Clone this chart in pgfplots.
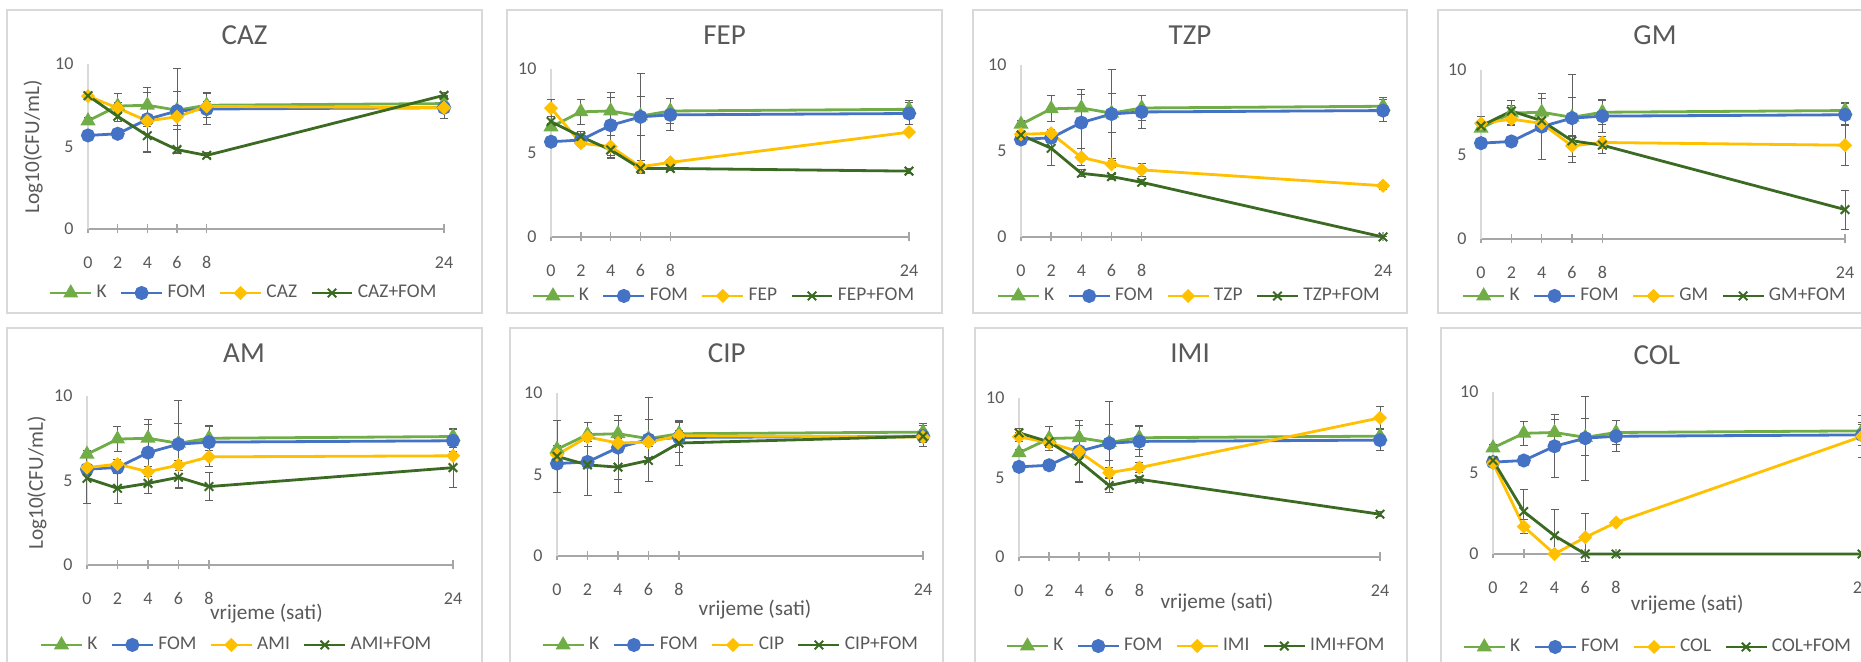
\documentclass[border=0pt]{standalone}
\usepackage{fontspec}
\setmainfont{Carlito}
\usepackage{pgfplots}
\pgfplotsset{compat=1.18}
\definecolor{cK}{HTML}{70AD47}
\definecolor{cF}{HTML}{4472C4}
\definecolor{cT}{HTML}{FFC000}
\definecolor{cC}{HTML}{3B6B22}
\definecolor{txt}{HTML}{595959}
\definecolor{axg}{HTML}{A6A6A6}
\definecolor{frm}{HTML}{D9D9D9}
\definecolor{errc}{HTML}{606060}
\pgfplotsset{
 panel/.style={
  scale only axis, xmin=0, xmax=24, ymin=0, ymax=10,
  axis x line*=bottom, axis y line*=left,
  xtick={0,2,4,6,8,24}, ytick={0,5,10},
  x axis line style={axg, line width=1pt},
  y axis line style={frm, line width=0.7pt},
  tick align=center, major tick length=4.5pt,
  xtick style={axg, line width=0.8pt},
  ytick style={draw=none},
  ticklabel style={font=\fontsize{9}{10}\selectfont, text=txt},
  /pgf/number format/assume math mode=true,
  xticklabel style={anchor=center, yshift=-14.5pt},
  yticklabel style={anchor=east, xshift=-1.5pt},
  title style={font=\fontsize{14.5}{16}\selectfont, text=txt, anchor=base},
  label style={font=\fontsize{10.6}{12}\selectfont, text=txt},
  legend style={draw=none, fill=none, font=\fontsize{9.7}{12}\selectfont, text=txt, legend columns=4, anchor=center, /tikz/every even column/.append style={column sep=4.5pt}},
  error bars/y dir=both, error bars/y explicit,
  error bars/error bar style={errc, line width=0.5pt},
  error bars/error mark options={rotate=90, mark size=2pt, errc, line width=0.5pt},
  clip=false,
 },
 legend image code/.code={\draw[mark repeat=2, mark phase=2, #1] plot coordinates {(0cm,0cm) (0.36cm,0cm) (0.72cm,0cm)};},
 sK/.style={cK, line width=1.4pt, mark=triangle*, mark size=3pt, mark options={solid, fill=cK}},
 sF/.style={cF, line width=1.4pt, mark=*, mark size=2.8pt, mark options={solid, fill=cF}},
 sT/.style={cT, line width=1.4pt, mark=square*, mark size=1.8pt, mark options={solid, fill=cT, rotate=45}},
 sC/.style={cC, line width=1.4pt, mark=x, mark size=3pt, mark options={solid, line width=1pt}},
}
\newcommand{\Kplot}{\addplot[sK] coordinates {(0,6.55) +- (0,0.2) (2,7.45) +- (0,0.75) (4,7.5) +- (0,0.8) (6,7.2) +- (0,1.15) (8,7.5) +- (0,0.75) (24,7.6) +- (0,0.5)};}
\newcommand{\Fplot}{\addplot[sF] coordinates {(0,5.67) +- (0,0.12) (2,5.77) +- (0,0.3) (4,6.65) +- (0,1.95) (6,7.15) +- (0,2.6) (8,7.27) +- (0,0.95) (24,7.35) +- (0,0.65)};}
\begin{document}
\begin{tikzpicture}
\useasboundingbox (0pt,0pt) rectangle (930.5pt,331pt);
\clip (0pt,0pt) rectangle (930.5pt,331pt);
% panel frames
\draw[frm, line width=1.2pt] (3.5pt,326pt) rectangle (241pt,174.5pt);
\draw[frm, line width=1.2pt] (253.5pt,326pt) rectangle (471pt,174.5pt);
\draw[frm, line width=1.2pt] (486.5pt,326pt) rectangle (703.5pt,174.5pt);
\draw[frm, line width=1.2pt] (719pt,326pt) rectangle (937.5pt,174.5pt);
\draw[frm, line width=1.2pt] (3.5pt,167pt) rectangle (241pt,-5pt);
\draw[frm, line width=1.2pt] (255pt,167pt) rectangle (471.5pt,-5pt);
\draw[frm, line width=1.2pt] (487.5pt,167pt) rectangle (703.5pt,-5pt);
\draw[frm, line width=1.2pt] (720.5pt,167pt) rectangle (937.5pt,-5pt);

% CAZ
\begin{axis}[panel, at={(44pt,216.5pt)}, anchor=south west, width=178pt, height=82.5pt,
  title={CAZ}, title style={at={(0.44,1)}, yshift=3.5pt},
  ylabel={Log10(CFU/mL)}, ylabel style={at={(axis description cs:-0.154,0.497)}, anchor=center},
  legend style={at={(0.44,-0.388)}}]
\Kplot \Fplot
\addplot[sT] coordinates {(0,8.05) +- (0,0.2) (2,7.33) +- (0,0.35) (4,6.55) +- (0,0.35) (6,6.8) +- (0,0.55) (8,7.43) +- (0,0.3) (24,7.35) +- (0,0.2)};
\addplot[sC] coordinates {(0,8.08) +- (0,0.15) (2,6.83) +- (0,0.3) (4,5.66) +- (0,1.0) (6,4.81) +- (0,0.15) (8,4.46) +- (0,0.15) (24,8.1) +- (0,0.15)};
\legend{K,FOM,CAZ,CAZ+FOM}
\end{axis}

% FEP
\begin{axis}[panel, at={(275.5pt,212.5pt)}, anchor=south west, width=179pt, height=84pt,
  title={FEP}, title style={at={(0.485,1)}, yshift=6pt},
  legend style={at={(0.485,-0.351)}}]
\Kplot \Fplot
\addplot[sT] coordinates {(0,7.67) +- (0,0.5) (2,5.58) +- (0,0.2) (4,5.38) +- (0,0.65) (6,4.18) +- (0,0.35) (8,4.44) +- (0,0.2) (24,6.24) +- (0,0.15)};
\addplot[sC] coordinates {(0,6.87) +- (0,0.3) (2,5.98) +- (0,0.3) (4,5.18) +- (0,0.35) (6,4.08) +- (0,0.3) (8,4.08) +- (0,0.15) (24,3.92) +- (0,0.15)};
\legend{K,FOM,FEP,FEP+FOM}
\end{axis}

% TZP
\begin{axis}[panel, at={(510.5pt,212.5pt)}, anchor=south west, width=181pt, height=86pt,
  title={TZP}, title style={at={(0.467,1)}, yshift=4pt},
  legend style={at={(0.467,-0.343)}}]
\Kplot \Fplot
\addplot[sT] coordinates {(0,5.97) +- (0,0.2) (2,6.03) +- (0,0.2) (4,4.63) +- (0,0.5) (6,4.22) +- (0,0.2) (8,3.9) +- (0,0.4) (24,2.98) +- (0,0.2)};
\addplot[sC] coordinates {(0,5.93) +- (0,0.15) (2,5.16) +- (0,1.0) (4,3.7) +- (0,0.2) (6,3.51) +- (0,0.15) (8,3.18) +- (0,0.15) (24,0) +- (0,0)};
\legend{K,FOM,TZP,TZP+FOM}
\end{axis}

% GM
\begin{axis}[panel, at={(740.5pt,211.5pt)}, anchor=south west, width=182pt, height=84.5pt,
  title={GM}, title style={at={(0.478,1)}, yshift=6.5pt},
  legend style={at={(0.48,-0.337)}}]
\Kplot \Fplot
\addplot[sT] coordinates {(0,6.84) +- (0,0.4) (2,7.09) +- (0,0.3) (4,6.84) +- (0,0.2) (6,5.51) +- (0,0.6) (8,5.71) +- (0,0.35) (24,5.55) +- (0,1.2)};
\addplot[sC] coordinates {(0,6.68) +- (0,0.2) (2,7.57) +- (0,0.3) (4,7.0) +- (0,0.3) (6,5.81) +- (0,0.3) (8,5.55) +- (0,0.5) (24,1.74) +- (0,1.15)};
\legend{K,FOM,GM,GM+FOM}
\end{axis}

% AM
\begin{axis}[panel, at={(43.5pt,48.5pt)}, anchor=south west, width=183pt, height=84.5pt,
  title={AM}, title style={at={(0.429,1)}, yshift=10.5pt},
  ylabel={Log10(CFU/mL)}, ylabel style={at={(axis description cs:-0.137,0.485)}, anchor=center},
  xlabel={vrijeme (sati)}, xlabel style={at={(axis description cs:0.49,-0.29)}, anchor=center},
  legend style={at={(0.411,-0.473)}}]
\Kplot \Fplot
\addplot[sT] coordinates {(0,5.76) +- (0,0.2) (2,5.97) +- (0,0.3) (4,5.52) +- (0,0.3) (6,5.91) +- (0,0.3) (8,6.4) +- (0,0.55) (24,6.46) +- (0,0.15)};
\addplot[sC] coordinates {(0,5.13) +- (0,1.5) (2,4.54) +- (0,0.9) (4,4.83) +- (0,0.6) (6,5.19) +- (0,0.6) (8,4.64) +- (0,0.83) (24,5.76) +- (0,1.2)};
\legend{K,FOM,AMI,AMI+FOM}
\end{axis}

% CIP
\begin{axis}[panel, at={(278.5pt,53pt)}, anchor=south west, width=183pt, height=81.5pt,
  title={CIP}, title style={at={(0.464,1)}, yshift=9pt},
  xlabel={vrijeme (sati)}, xlabel style={at={(axis description cs:0.541,-0.331)}, anchor=center},
  legend style={at={(0.477,-0.546)}}]
\Kplot \Fplot
\addplot[sT] coordinates {(0,6.21) +- (0,0.4) (2,7.3) +- (0,0.3) (4,6.93) +- (0,0.3) (6,6.99) +- (0,0.3) (8,7.38) +- (0,0.3) (24,7.3) +- (0,0.3)};
\addplot[sC] coordinates {(0,6.11) +- (0,2.2) (2,5.59) +- (0,1.9) (4,5.45) +- (0,1.55) (6,5.86) +- (0,1.3) (8,6.93) +- (0,1.4) (24,7.34) +- (0,0.4)};
\legend{K,FOM,CIP,CIP+FOM}
\end{axis}

% IMI
\begin{axis}[panel, at={(509.5pt,52.5pt)}, anchor=south west, width=180.5pt, height=79.5pt,
  title={IMI}, title style={at={(0.474,1)}, yshift=11.5pt},
  xlabel={vrijeme (sati)}, xlabel style={at={(axis description cs:0.548,-0.289)}, anchor=center},
  legend style={at={(0.493,-0.56)}}]
\Kplot \Fplot
\addplot[sT] coordinates {(0,7.56) +- (0,0.3) (2,7.18) +- (0,0.3) (4,6.62) +- (0,0.3) (6,5.3) +- (0,0.3) (8,5.62) +- (0,0.3) (24,8.75) +- (0,0.7)};
\addplot[sC] coordinates {(0,7.81) +- (0,0.3) (2,7.24) +- (0,0.3) (4,6.03) +- (0,1.3) (6,4.49) +- (0,0.45) (8,4.89) +- (0,0.2) (24,2.69) +- (0,0.15)};
\legend{K,FOM,IMI,IMI+FOM}
\end{axis}

% COL
\begin{axis}[panel, at={(746.5pt,54pt)}, anchor=south west, width=184.5pt, height=81pt,
  title={COL}, title style={at={(0.444,1)}, yshift=7.5pt},
  xlabel={vrijeme (sati)}, xlabel style={at={(axis description cs:0.526,-0.315)}, anchor=center},
  legend style={at={(0.449,-0.574)}}]
\Kplot \Fplot
\addplot[sT] coordinates {(0,5.61) +- (0,0.2) (2,1.69) +- (0,0.45) (4,0) +- (0,0) (6,1.03) +- (0,1.5) (8,1.94) +- (0,0.1) (24,7.26) +- (0,1.3)};
\addplot[sC] coordinates {(0,5.77) +- (0,0.2) (2,2.62) +- (0,1.35) (4,1.13) += (0,1.6) -= (0,1.13) (6,0) +- (0,0) (8,0) +- (0,0) (24,0) +- (0,0)};
\legend{K,FOM,COL,COL+FOM}
\end{axis}
\end{tikzpicture}
\end{document}
